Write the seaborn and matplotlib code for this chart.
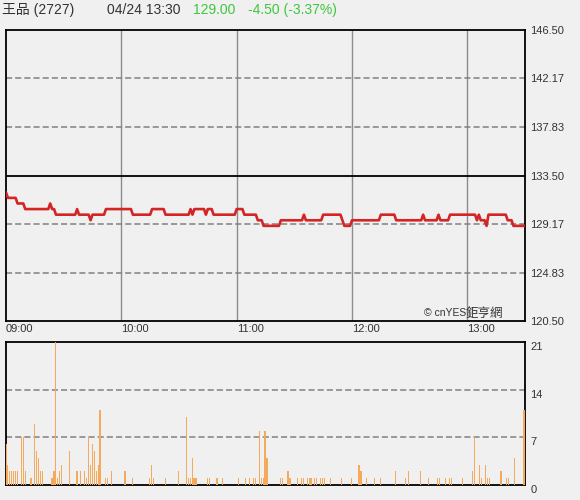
import matplotlib
matplotlib.use('Agg')
import matplotlib.pyplot as plt
import seaborn as sns

# header
stock_name = '王品 (2727)'
stamp = '04/24 13:30'
last_price = '129.00'
change = '-4.50 (-3.37%)'
prev_close = 133.50

# price: minutes after 09:00 where the level changes
price_min = [0, 1, 5, 6, 9, 10, 22, 23, 24, 25, 26, 36, 37, 38, 43, 44, 45, 51, 52, 65,
             66, 75, 76, 82, 83, 95, 96, 97, 98, 103, 104, 105, 107, 108, 119, 120, 123, 124,
             130, 131, 133, 134, 142, 143, 154, 155, 156, 164, 165, 174, 175, 176, 179, 180,
             194, 195, 202, 203, 216, 217, 218, 224, 225, 226, 230, 231, 244, 245, 246, 247,
             249, 250, 251, 260, 261, 263, 264, 270]
price_val = [132.0, 131.5, 131.5, 131.0, 131.0, 130.5, 130.5, 131.0, 130.5, 130.5, 130.0,
             130.0, 130.5, 130.0, 130.0, 129.5, 130.0, 130.0, 130.5, 130.5,
             130.0, 130.0, 130.5, 130.5, 130.0, 130.0, 130.5, 130.0, 130.5, 130.5, 130.0,
             130.5, 130.5, 130.0, 130.0, 130.5, 130.5, 130.0,
             130.0, 129.5, 129.5, 129.0, 129.0, 129.5, 129.5, 130.0, 129.5, 129.5, 130.0,
             130.0, 129.5, 129.0, 129.0, 129.5,
             129.5, 130.0, 130.0, 129.5, 129.5, 130.0, 129.5, 129.5, 130.0, 129.5, 129.5,
             130.0, 130.0, 129.5, 130.0, 129.5,
             129.5, 129.0, 130.0, 130.0, 129.5, 129.5, 129.0, 129.0]

# volume per minute (only non-zero minutes)
vol_min = [0, 1, 2, 3, 4, 5, 6, 8, 9, 10, 13, 15, 16, 17, 18, 19, 24, 25, 26, 27, 28, 29,
           33, 37, 39, 41, 42, 43, 44, 45, 46, 47, 48, 49, 52, 53, 55, 62, 66,
           75, 76, 77, 83, 90, 94, 95, 96, 97, 98, 99, 105, 106, 110, 113, 121, 125, 127,
           129, 130, 132, 133, 134, 135, 136, 143, 144, 147, 148, 152, 154, 155, 157, 158,
           159, 161, 162, 164, 165, 166, 169, 175, 180, 184, 185, 188, 192, 195,
           203, 208, 210, 216, 220, 225, 226, 229, 231, 232, 238, 243, 244, 247, 248, 250,
           251, 252, 258, 261, 262, 265, 270]
vol_val = [6, 3, 2, 2, 2, 2, 2, 7, 7, 2, 1, 9, 5, 4, 2, 2, 1, 2, 21, 1, 2, 3,
           5, 2, 2, 2, 1, 7, 3, 6, 5, 2, 3, 11, 1, 1, 2, 2, 1,
           1, 3, 1, 1, 2, 10, 1, 1, 4, 1, 1, 1, 1, 1, 1, 1, 1, 1,
           1, 1, 8, 1, 1, 8, 4, 1, 1, 2, 1, 1, 1, 1, 1, 1,
           1, 1, 1, 1, 1, 1, 1, 1, 1, 3, 2, 1, 1, 1,
           2, 1, 2, 2, 1, 1, 1, 1, 1, 1, 1, 2, 7, 3, 1, 3,
           1, 1, 2, 1, 1, 4, 11]

price_ticks = [120.50, 124.83, 129.17, 133.50, 137.83, 142.17, 146.50]
vol_ticks = [0, 7, 14, 21]
time_ticks = [0, 60, 120, 180, 240]
time_labels = ['09:00', '10:00', '11:00', '12:00', '13:00']

sns.set_theme(style='white')
plt.rcParams['font.family'] = ['Liberation Sans', 'Noto Sans CJK TC']
bg = '#f0f0f0'
grey = '#808080'
dash = (0, (4, 2))

W, H = 580, 500
fig = plt.figure(figsize=(W / 100, H / 100), dpi=100, facecolor=bg)


def box(x0, y0, x1, y1):
    return [x0 / W, 1 - y1 / H, (x1 - x0) / W, (y1 - y0) / H]


ax = fig.add_axes(box(6, 30, 525, 321), facecolor=bg)
axv = fig.add_axes(box(6, 342, 525, 485), facecolor=bg)

# price panel
for t in time_ticks[1:]:
    ax.axvline(t, color='#8c8c8c', lw=1.0, zorder=1)
for p in price_ticks[1:-1]:
    if p == prev_close:
        ax.axhline(p, color='black', lw=1.3, zorder=1)
    else:
        ax.axhline(p, color=grey, lw=1.1, ls=dash, zorder=1)
sns.lineplot(x=price_min, y=price_val, ax=ax, color='#d42424', lw=1.9, zorder=3)
ax.set_xlim(0, 270)
ax.set_ylim(120.5, 146.5)
ax.set_xlabel('')
ax.set_ylabel('')
ax.set_yticks(price_ticks)
ax.set_yticklabels([f'{p:.2f}' for p in price_ticks])
ax.yaxis.tick_right()
ax.set_xticks(time_ticks)
ax.set_xticklabels(time_labels)
for lab in ax.get_xticklabels():
    lab.set_ha('left')
ax.tick_params(axis='both', length=0, labelsize=8, colors='#333333')
ax.tick_params(axis='y', pad=4)
ax.tick_params(axis='x', pad=2)
for s in ax.spines.values():
    s.set_color('black')
    s.set_linewidth(1.3)
ax.text(0.887, 0.01, '© cnYES', transform=ax.transAxes, ha='right', va='bottom',
        fontsize=7.5, color='#333333')
ax.text(0.958, 0.005, '鉅亨網', transform=ax.transAxes, ha='right', va='bottom',
        fontsize=9, color='#333333', family=['Noto Sans CJK TC'])

# volume panel
for v in vol_ticks[1:-1]:
    axv.axhline(v, color=grey, lw=1.1, ls=dash, zorder=1)
sns.barplot(x=vol_min, y=vol_val, ax=axv, native_scale=True, orient='x', width=0.6,
            color='#f4aa5a', linewidth=0, errorbar=None, saturation=1, zorder=3)
axv.set_xlim(0, 270.5)
axv.set_ylim(0, 21)
axv.set_xlabel('')
axv.set_ylabel('')
axv.set_xticks([])
axv.set_yticks(vol_ticks)
axv.set_yticklabels([str(v) for v in vol_ticks])
axv.yaxis.tick_right()
for lab in axv.get_yticklabels():
    lab.set_va('top')
axv.tick_params(axis='y', length=0, labelsize=8, colors='#333333', pad=4)
for s in axv.spines.values():
    s.set_color('black')
    s.set_linewidth(1.3)

# header
fig.text(2 / W, 1 - 10 / H, stock_name, ha='left', va='center', fontsize=10, color='#333333')
fig.text(107 / W, 1 - 10 / H, stamp, ha='left', va='center', fontsize=10, color='#333333')
fig.text(193 / W, 1 - 10 / H, last_price, ha='left', va='center', fontsize=10, color='#3cc83c')
fig.text(248 / W, 1 - 10 / H, change, ha='left', va='center', fontsize=10, color='#3cc83c')

fig.savefig('out.png', dpi=100, facecolor=bg)
